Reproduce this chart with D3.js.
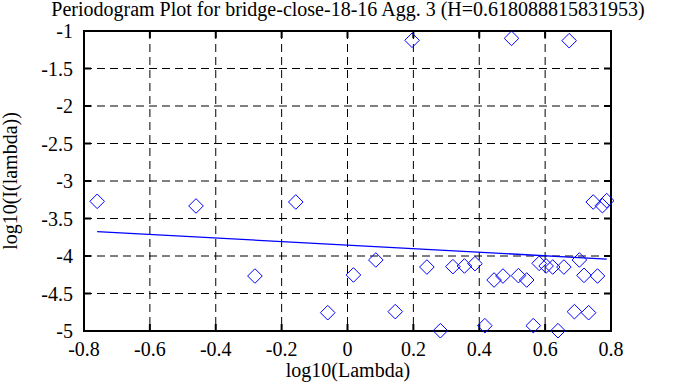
<!DOCTYPE html>
<html>
<head>
<meta charset="utf-8">
<script src="https://cdn.jsdelivr.net/npm/d3@7/dist/d3.min.js"></script>
<style>
  body { margin: 0; background: #fff; }
  text { font-family: "Times New Roman", "Liberation Serif", "DejaVu Serif", serif; font-size: 20px; fill: #000; }
</style>
</head>
<body>
<div id="chartArea"></div>
<script>
// log10(Lambda) and log10(I(lambda))
var logLambda = [-0.760, -0.460, -0.281, -0.157, -0.060, 0.018, 0.086, 0.145, 0.196, 0.241,
  0.282, 0.320, 0.355, 0.387, 0.417, 0.445, 0.472, 0.498, 0.519, 0.544,
  0.564, 0.582, 0.603, 0.623, 0.639, 0.657, 0.673, 0.689, 0.704, 0.718,
  0.732, 0.746, 0.759, 0.774, 0.787];
var logI = [-3.271, -3.333, -4.267, -3.280, -4.756, -4.253, -4.053, -4.742, -1.124, -4.147,
  -4.996, -4.142, -4.133, -4.102, -4.929, -4.320, -4.267, -1.098, -4.262, -4.320,
  -4.929, -4.098, -4.133, -4.147, -4.996, -4.147, -1.129, -4.742, -4.053, -4.258,
  -4.756, -3.280, -4.267, -3.329, -3.262];

// least squares fit, slope = 1 - 2H
var fitSlope = -0.2362, fitIntercept = -3.855;

var xTicks = [-0.8, -0.6, -0.4, -0.2, 0, 0.2, 0.4, 0.6, 0.8];
var yTicks = [-1, -1.5, -2, -2.5, -3, -3.5, -4, -4.5, -5];

var title = 'Periodogram Plot for bridge-close-18-16 Agg. 3 (H=0.618088815831953)';

var w = 695, h = 387;
var pLeft = 84, pRight = 611, pTop = 31, pBottom = 331;

var svg = d3.select('#chartArea').append('svg')
    .attr('width', w)
    .attr('height', h);

var xScale = d3.scaleLinear().domain([-0.8, 0.8]).range([pLeft, pRight]);
var yScale = d3.scaleLinear().domain([-5, -1]).range([pBottom, pTop]);

var points = logLambda.map(function (x, i) { return { x: x, y: logI[i] }; });

// grid
svg.selectAll('line.vgrid')
    .data(xTicks.slice(1, -1))
    .enter().append('line')
    .attr('x1', xScale).attr('x2', xScale)
    .attr('y1', pTop).attr('y2', pBottom)
    .attr('stroke', '#000').attr('stroke-width', 1)
    .attr('stroke-dasharray', '8,5');

svg.selectAll('line.hgrid')
    .data(yTicks.slice(1, -1))
    .enter().append('line')
    .attr('y1', yScale).attr('y2', yScale)
    .attr('x1', pLeft).attr('x2', pRight)
    .attr('stroke', '#000').attr('stroke-width', 1)
    .attr('stroke-dasharray', '8,5');

// ticks on all four sides, pointing in
var tl = 7;
var tickG = svg.append('g').attr('stroke', '#000').attr('stroke-width', 2);
xTicks.forEach(function (t) {
    tickG.append('line').attr('x1', xScale(t)).attr('x2', xScale(t)).attr('y1', pBottom).attr('y2', pBottom - tl);
    tickG.append('line').attr('x1', xScale(t)).attr('x2', xScale(t)).attr('y1', pTop).attr('y2', pTop + tl);
});
yTicks.forEach(function (t) {
    tickG.append('line').attr('y1', yScale(t)).attr('y2', yScale(t)).attr('x1', pLeft).attr('x2', pLeft + tl);
    tickG.append('line').attr('y1', yScale(t)).attr('y2', yScale(t)).attr('x1', pRight).attr('x2', pRight - tl);
});

// frame
svg.append('rect')
    .attr('x', pLeft).attr('y', pTop)
    .attr('width', pRight - pLeft).attr('height', pBottom - pTop)
    .attr('fill', 'none').attr('stroke', '#000').attr('stroke-width', 2);

// tick labels (plain hyphen minus, like the original)
svg.selectAll('text.xt')
    .data(xTicks)
    .enter().append('text')
    .attr('x', xScale)
    .attr('y', 356)
    .attr('text-anchor', 'middle')
    .text(function (d) { return String(d); });

svg.selectAll('text.yt')
    .data(yTicks)
    .enter().append('text')
    .attr('x', 73)
    .attr('y', function (d) { return yScale(d) + 7; })
    .attr('text-anchor', 'end')
    .text(function (d) { return String(d); });

// fit line
var xr = d3.extent(logLambda);
svg.append('line')
    .attr('x1', xScale(xr[0])).attr('y1', yScale(fitIntercept + fitSlope * xr[0]))
    .attr('x2', xScale(xr[1])).attr('y2', yScale(fitIntercept + fitSlope * xr[1]))
    .attr('stroke', '#0000ff').attr('stroke-width', 1.3);

// diamonds
var r = 7.3;
svg.selectAll('path.pt')
    .data(points)
    .enter().append('path')
    .attr('d', function (d) {
        var cx = xScale(d.x), cy = yScale(d.y);
        return 'M' + cx + ',' + (cy - r) + 'L' + (cx + r) + ',' + cy +
            'L' + cx + ',' + (cy + r) + 'L' + (cx - r) + ',' + cy + 'Z';
    })
    .attr('fill', 'none')
    .attr('stroke', '#0000ff')
    .attr('stroke-width', 1);

// titles
svg.append('text')
    .attr('x', 348).attr('y', 16)
    .attr('text-anchor', 'middle')
    .text(title);

svg.append('text')
    .attr('x', 348).attr('y', 377)
    .attr('text-anchor', 'middle')
    .text('log10(Lambda)');

svg.append('text')
    .attr('transform', 'translate(17,' + ((pTop + pBottom) / 2) + ') rotate(-90)')
    .attr('text-anchor', 'middle')
    .text('log10(I(lambda))');
</script>
</body>
</html>
